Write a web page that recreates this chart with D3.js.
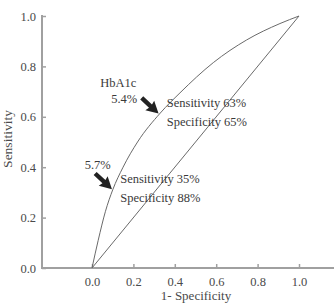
<!DOCTYPE html>
<html>
<head>
<meta charset="utf-8">
<script src="https://cdn.jsdelivr.net/npm/d3@7"></script>
<style>
  body { margin: 0; background: #fff; }
  svg { display: block; }
  text { font-family: "Liberation Serif", "DejaVu Serif", serif; }
</style>
</head>
<body>
<svg id="chart"></svg>
<script>
// ROC curve (1 - specificity, sensitivity)
var rocFpr  = [0, 0.03, 0.065, 0.10, 0.15, 0.22, 0.33, 0.425, 0.586, 0.747, 0.908, 1];
var rocSens = [0, 0.11, 0.225, 0.31, 0.40, 0.50, 0.615, 0.695, 0.815, 0.905, 0.97, 1];

// reference diagonal
var diagFpr  = [0, 1];
var diagSens = [0, 1];

// cut-off points marked with arrows
var cutLabels = ["5.4%", "5.7%"];
var cutFpr    = [0.325, 0.10];
var cutSens   = [0.61, 0.31];
var cutSensTxt = ["Sensitivity 63%", "Sensitivity 35%"];
var cutSpecTxt = ["Specificity 65%", "Specificity 88%"];

var xTicks = [0, 0.2, 0.4, 0.6, 0.8, 1.0];
var yTicks = [0, 0.2, 0.4, 0.6, 0.8, 1.0];

var width = 334;
var height = 305;

var svg = d3.select("#chart")
  .attr("width", width)
  .attr("height", height);

var x = d3.scaleLinear().domain([0, 1]).range([92, 299]);
var y = d3.scaleLinear().domain([0, 1]).range([268, 16]);

var axisColor = "#a0a0a0";
var textColor = "#4a4a4a";

// x axis
var gx = svg.append("g")
  .attr("transform", "translate(0," + y(0) + ")")
  .call(d3.axisBottom(x).tickValues(xTicks).tickFormat(d3.format(".1f"))
    .tickSizeInner(-4).tickSizeOuter(0).tickPadding(9));
gx.select(".domain").remove();
gx.selectAll(".tick line").attr("stroke", axisColor).attr("stroke-width", 1.5);
gx.selectAll(".tick text").attr("fill", textColor).style("font-size", "12.5px")
  .style("font-family", "Liberation Serif");
gx.append("line")
  .attr("x1", 42).attr("x2", width)
  .attr("y1", 0).attr("y2", 0)
  .attr("stroke", axisColor).attr("stroke-width", 2);

// y axis
var gy = svg.append("g")
  .attr("transform", "translate(42,0)")
  .call(d3.axisLeft(y).tickValues(yTicks).tickFormat(d3.format(".1f"))
    .tickSizeInner(-4).tickSizeOuter(0).tickPadding(6));
gy.select(".domain").remove();
gy.selectAll(".tick line").attr("stroke", axisColor).attr("stroke-width", 1.5);
gy.selectAll(".tick text").attr("fill", textColor).style("font-size", "12.5px")
  .style("font-family", "Liberation Serif");
gy.append("line")
  .attr("x1", 0).attr("x2", 0)
  .attr("y1", y(0) + 1).attr("y2", y(1) - 1)
  .attr("stroke", axisColor).attr("stroke-width", 2);

// axis titles
svg.append("text")
  .attr("x", 196).attr("y", 300)
  .attr("text-anchor", "middle")
  .attr("fill", textColor)
  .style("font-size", "13px")
  .text("1- Specificity");

svg.append("text")
  .attr("transform", "translate(12,139) rotate(-90)")
  .attr("text-anchor", "middle")
  .attr("fill", textColor)
  .style("font-size", "13.5px")
  .text("Sensitivity");

// lines
var line = d3.line()
  .x(function(d) { return x(d[0]); })
  .y(function(d) { return y(d[1]); });

svg.append("path")
  .datum(d3.zip(diagFpr, diagSens))
  .attr("d", line)
  .attr("fill", "none")
  .attr("stroke", "#6a6a6a")
  .attr("stroke-width", 1);

svg.append("path")
  .datum(d3.zip(rocFpr, rocSens))
  .attr("d", line.curve(d3.curveMonotoneX))
  .attr("fill", "none")
  .attr("stroke", "#6a6a6a")
  .attr("stroke-width", 1);

// arrows + annotation
var arrowShape = [[0, -2.2], [12, -2.2], [11, -6.5], [23, 0], [11, 6.5], [12, 2.2], [0, 2.2]];

cutLabels.forEach(function(lab, i) {
  var tx = x(cutFpr[i]);
  var ty = y(cutSens[i]);
  var ang = 43;
  var g = svg.append("g")
    .attr("transform", "translate(" + tx + "," + ty + ") rotate(" + ang + ") translate(-24,0)");
  g.append("polygon")
    .attr("points", arrowShape.map(function(p) { return p.join(","); }).join(" "))
    .attr("fill", "#222");

  var txt = svg.append("g").attr("fill", "#3a3a3a").style("font-size", "12.5px");
  if (i === 0) {
    txt.append("text").attr("x", tx - 59).attr("y", ty - 27).text("HbA1c");
    txt.append("text").attr("x", tx - 22).attr("y", ty - 11)
      .attr("text-anchor", "end").text(lab);
  } else {
    txt.append("text").attr("x", tx - 2).attr("y", ty - 21)
      .attr("text-anchor", "end").text(lab);
  }
  txt.append("text").attr("x", tx + 7.5).attr("y", ty - 7).text(cutSensTxt[i]);
  txt.append("text").attr("x", tx + 7.5).attr("y", ty + 12).text(cutSpecTxt[i]);
});
</script>
</body>
</html>
